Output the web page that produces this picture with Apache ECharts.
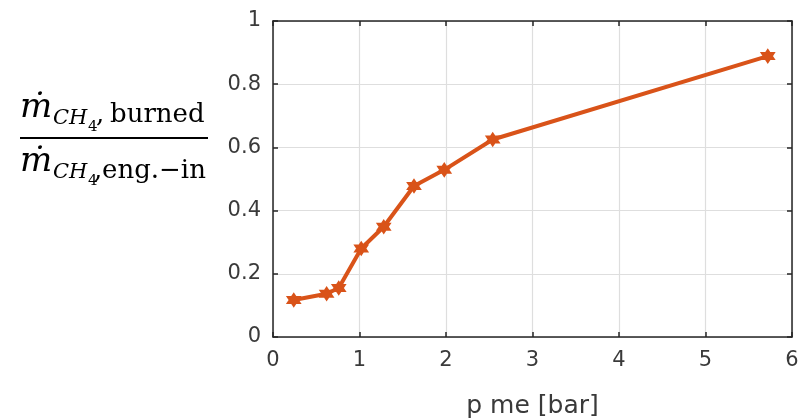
<!DOCTYPE html>
<html>
<head>
<meta charset="utf-8">
<script src="https://cdn.jsdelivr.net/npm/echarts@6/dist/echarts.min.js"></script>
<style>html,body{margin:0;padding:0;background:#fff}#c{width:808px;height:418px}</style>
</head>
<body>
<div id="c"></div>
<script>
// Data
var pme = [0.24, 0.62, 0.76, 1.02, 1.28, 1.63, 1.98, 2.54, 5.72];
var ratio = [0.117, 0.137, 0.155, 0.280, 0.349, 0.478, 0.529, 0.625, 0.889];
var xTicks = [0, 1, 2, 3, 4, 5, 6];
var yTicks = [0, 0.2, 0.4, 0.6, 0.8, 1];
var xName = 'p me [bar]';

var hexagram = 'path://M0,-10 L2.887,-5 L8.66,-5 L5.774,0 L8.66,5 L2.887,5 L0,10 L-2.887,5 L-8.66,5 L-5.774,0 L-8.66,-5 L-2.887,-5 Z';
var axisColor = '#262626';
var labelColor = '#3a3a3a';
var orange = '#D95319';

var chart = echarts.init(document.getElementById('c'), null, {renderer: 'canvas'});
var data = pme.map(function (x, i) { return [x, ratio[i]]; });

function txt(x, y, s, font) {
  return {type: 'text', x: x, y: y, style: {text: s, font: font, fill: '#000', verticalAlign: 'middle', align: 'left'}};
}
var it34 = 'italic 34px "DejaVu Serif"';
var it21 = 'italic 21px "DejaVu Serif"';
var r15 = '15px "DejaVu Serif"';
var r26 = '26px "DejaVu Serif"';

chart.setOption({
  animation: false,
  backgroundColor: '#fff',
  grid: {left: 273, top: 21, width: 519, height: 316, containLabel: false, outerBoundsMode: 'none'},
  xAxis: [{
    type: 'value', min: xTicks[0], max: xTicks[xTicks.length - 1], interval: 1, position: 'bottom',
    name: xName, nameLocation: 'middle', nameGap: 57,
    nameTextStyle: {fontFamily: 'DejaVu Sans', fontSize: 25, color: labelColor},
    axisLine: {show: true, onZero: false, lineStyle: {color: axisColor, width: 1.5}},
    axisTick: {show: true, inside: true, length: 5, lineStyle: {color: axisColor, width: 1.5}},
    axisLabel: {margin: 13, fontFamily: 'DejaVu Sans', fontSize: 21, color: labelColor},
    splitLine: {show: true, lineStyle: {color: '#dedede', width: 1.2}}
  }, {
    type: 'value', min: xTicks[0], max: xTicks[xTicks.length - 1], interval: 1, position: 'top',
    axisLine: {show: true, onZero: false, lineStyle: {color: axisColor, width: 1.5}},
    axisTick: {show: true, inside: true, length: 5, lineStyle: {color: axisColor, width: 1.5}},
    axisLabel: {show: false}, splitLine: {show: false}
  }],
  yAxis: [{
    type: 'value', min: yTicks[0], max: yTicks[yTicks.length - 1], interval: 0.2, position: 'left',
    axisLine: {show: true, onZero: false, lineStyle: {color: axisColor, width: 1.5}},
    axisTick: {show: true, inside: true, length: 5, lineStyle: {color: axisColor, width: 1.5}},
    axisLabel: {margin: 12, fontFamily: 'DejaVu Sans', fontSize: 21, color: labelColor},
    splitLine: {show: true, lineStyle: {color: '#dedede', width: 1.2}}
  }, {
    type: 'value', min: yTicks[0], max: yTicks[yTicks.length - 1], interval: 0.2, position: 'right',
    axisLine: {show: true, onZero: false, lineStyle: {color: axisColor, width: 1.5}},
    axisTick: {show: true, inside: true, length: 5, lineStyle: {color: axisColor, width: 1.5}},
    axisLabel: {show: false}, splitLine: {show: false}
  }],
  series: [{
    type: 'line', xAxisIndex: 0, yAxisIndex: 0, data: data,
    lineStyle: {color: orange, width: 4},
    symbol: hexagram, symbolSize: 12, showAllSymbol: true,
    itemStyle: {color: orange, borderColor: orange, borderWidth: 2}
  }],
  graphic: [
    txt(20, 108, '\u1E41', it34),
    txt(53, 119, 'CH', it21),
    txt(88, 127, '4', r15),
    txt(96, 115, ',', r26),
    txt(110, 115, 'burned', r26),
    {type: 'line', shape: {x1: 20, y1: 138, x2: 208, y2: 138}, style: {stroke: '#000', lineWidth: 2}},
    txt(20, 162, '\u1E41', it34),
    txt(53, 173, 'CH', it21),
    txt(88, 181, '4', r15),
    txt(94, 171, ',', r26),
    txt(102, 171, 'eng.\u2212in', r26)
  ]
});
</script>
</body>
</html>
